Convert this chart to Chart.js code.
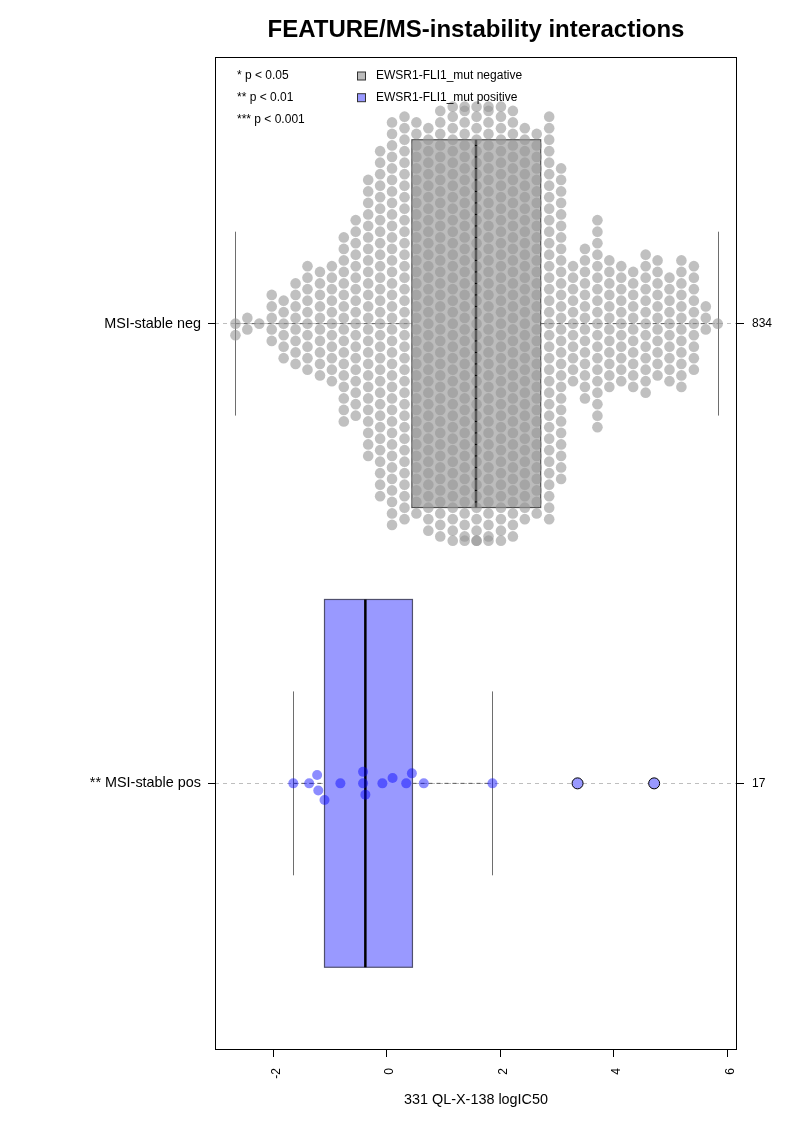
<!DOCTYPE html>
<html><head><meta charset="utf-8">
<script src="https://cdn.jsdelivr.net/npm/chart.js@4.4.0/dist/chart.umd.min.js"></script>
<style>html,body{margin:0;padding:0;background:#fff;} canvas{display:block;}</style>
</head><body>
<canvas id="c" width="793" height="1122" style="width:793px;height:1122px"></canvas>
<script>
// ---------- data ----------
const titleText = 'FEATURE/MS-instability interactions';
const xTitle = '331 QL-X-138 logIC50';
const groupLabels = ['MSI-stable neg', '** MSI-stable pos'];
const groupCounts = ['834', '17'];
const groupPositions = [2, 1];
const xTickValues = [-2, 0, 2, 4, 6];
const sigLegend = ['* p < 0.05', '** p < 0.01', '*** p < 0.001'];
const seriesLegend = ['EWSR1-FLI1_mut negative', 'EWSR1-FLI1_mut positive'];
// box stats: [lower whisker, Q1, median, Q3, upper whisker]
const negBox = [-2.67, 0.44, 1.57, 2.71, 5.83];
const posBox = [-1.65, -1.10, -0.38, 0.45, 1.86];
const posOutliers = [3.36, 4.71];
// negative group: values (binned) and number of points per bin
const negBinValues = [-2.67, -2.46, -2.25, -2.03, -1.82, -1.61, -1.40, -1.18, -0.97, -0.76, -0.55, -0.33, -0.12, 0.09, 0.31,
  0.52, 0.73, 0.94, 1.16, 1.37, 1.58, 1.79, 2.01, 2.22, 2.43, 2.64,
  2.86, 3.07, 3.28, 3.49, 3.71, 3.92, 4.13, 4.34, 4.56, 4.77, 4.98, 5.19, 5.41, 5.62, 5.83];
const negBinCounts = [2, 2, 1, 5, 6, 8, 10, 10, 11, 17, 18, 25, 31, 36, 36,
  35, 36, 38, 39, 40, 40, 40, 39, 38, 35, 34,
  36, 28, 11, 14, 19, 12, 11, 11, 13, 11, 10, 12, 10, 3, 1];
// positive group: individual values (non-outliers)
const posValues = [-1.65, -1.37, -1.23, -1.21, -1.10, -0.82, -0.42, -0.42, -0.38, -0.08, 0.10, 0.34, 0.44, 0.65, 1.86];

// ---------- styling ----------
const FONT = '"Liberation Sans", Arial, Helvetica, sans-serif';
const negPointColor = 'rgba(150,150,150,0.6)';
const negBoxFill = 'rgb(188,188,188)';
const posPointColor = 'rgba(0,0,255,0.45)';
const posBoxFill = 'rgb(153,153,255)';
const SPACING = 11.5;   // px between point centres
const GUTTER = 217;     // px max offset from group line
const BOX_HALF = 0.4, STAPLE_HALF = 0.2;

const boxPlugin = {
  id: 'boxes',
  beforeDatasetsDraw(chart) {
    const ctx = chart.ctx, xs = chart.scales.x, ys = chart.scales.y;
    const drawBox = (st, pos, fill, border) => {
      const yc = ys.getPixelForValue(pos);
      const yt = ys.getPixelForValue(pos + BOX_HALF), yb = ys.getPixelForValue(pos - BOX_HALF);
      const st1 = ys.getPixelForValue(pos + STAPLE_HALF), st2 = ys.getPixelForValue(pos - STAPLE_HALF);
      const p = st.map(v => xs.getPixelForValue(v));
      ctx.save();
      ctx.strokeStyle = 'rgb(90,90,90)'; ctx.lineWidth = 1; ctx.setLineDash([4, 4]);
      ctx.beginPath(); ctx.moveTo(p[0], yc); ctx.lineTo(p[1], yc); ctx.moveTo(p[3], yc); ctx.lineTo(p[4], yc); ctx.stroke();
      ctx.setLineDash([]);
      ctx.strokeStyle = 'rgb(110,110,110)';
      ctx.beginPath(); ctx.moveTo(Math.round(p[0]) + 0.5, st1); ctx.lineTo(Math.round(p[0]) + 0.5, st2);
      ctx.moveTo(Math.round(p[4]) + 0.5, st1); ctx.lineTo(Math.round(p[4]) + 0.5, st2); ctx.stroke();
      ctx.fillStyle = fill; ctx.fillRect(p[1], yt, p[3] - p[1], yb - yt);
      ctx.strokeStyle = border; ctx.lineWidth = 1.2; ctx.strokeRect(p[1], yt, p[3] - p[1], yb - yt);
      ctx.strokeStyle = '#000'; ctx.lineWidth = 2.5;
      ctx.beginPath(); ctx.moveTo(p[2], yt); ctx.lineTo(p[2], yb); ctx.stroke();
      ctx.restore();
    };
    drawBox(negBox, groupPositions[0], negBoxFill, 'rgb(80,80,80)');
    drawBox(posBox, groupPositions[1], posBoxFill, 'rgb(80,80,110)');
  }
};

const framePlugin = {
  id: 'frame',
  afterDraw(chart) {
    const ctx = chart.ctx, a = chart.chartArea;
    ctx.save();
    ctx.strokeStyle = '#000'; ctx.lineWidth = 1;
    ctx.strokeRect(Math.round(a.left) + 0.5, Math.round(a.top) + 0.5, Math.round(a.right - a.left) - 1, Math.round(a.bottom - a.top) - 1);
    ctx.font = '12px ' + FONT; ctx.fillStyle = '#000'; ctx.textBaseline = 'middle'; ctx.textAlign = 'left';
    sigLegend.forEach((t, i) => ctx.fillText(t, a.left + 22, a.top + 19 + i * 21.7));
    const sw = [negBoxFill, posBoxFill];
    seriesLegend.forEach((t, i) => {
      const yy = a.top + 19 + i * 21.7;
      ctx.fillStyle = sw[i]; ctx.fillRect(a.left + 142.5, yy - 4, 8, 8);
      ctx.strokeStyle = 'rgb(50,50,50)'; ctx.lineWidth = 1; ctx.strokeRect(a.left + 142.5, yy - 4, 8, 8);
      ctx.fillStyle = '#000'; ctx.fillText(t, a.left + 161, yy);
    });
    ctx.restore();
  }
};

const chart = new Chart(document.getElementById('c'), {
  type: 'scatter',
  data: { datasets: [
    { label: 'pos', data: [], backgroundColor: posPointColor, borderWidth: 0, pointRadius: 5 },
    { label: 'posOut', data: [], backgroundColor: 'rgb(153,153,255)', borderColor: '#000', borderWidth: 1, pointRadius: 5.5 },
    { label: 'neg', data: [], backgroundColor: negPointColor, borderWidth: 0, pointRadius: 5.3 }
  ]},
  options: {
    responsive: false, animation: false, devicePixelRatio: 1, events: [],
    layout: { padding: 0 },
    plugins: {
      legend: { display: false }, tooltip: { enabled: false },
      title: { display: true, text: titleText, color: '#000', fullSize: false,
        font: { family: FONT, size: 24, weight: 'bold', lineHeight: 1.2 }, padding: { top: 16, bottom: 12.2 } }
    },
    scales: {
      x: { type: 'linear', position: 'bottom', min: -3.03, max: 6.17,
        afterBuildTicks: s => { s.ticks = xTickValues.map(v => ({ value: v })); },
        afterFit: s => { s.height = 72; },
        grid: { drawOnChartArea: false, drawTicks: true, tickLength: 7, tickColor: '#000', tickWidth: 1, color: '#000' },
        border: { display: false },
        ticks: { minRotation: 90, maxRotation: 90, padding: 11, labelOffset: 3, autoSkip: false, color: '#000', font: { family: FONT, size: 12 } },
        title: { display: true, text: xTitle, color: '#000', font: { family: FONT, size: 14.4, lineHeight: 1.2 }, padding: { top: 0, bottom: 13 } }
      },
      y: { type: 'linear', position: 'left', min: 0.42, max: 2.58,
        afterBuildTicks: s => { s.ticks = groupPositions.map(v => ({ value: v })); },
        afterFit: s => { s.width = 215; },
        grid: { drawOnChartArea: true, color: 'rgb(190,190,190)', lineWidth: 1, tickLength: 7, tickColor: '#000', tickBorderDash: [] },
        border: { display: false, dash: [4, 4] },
        ticks: { padding: 7, color: '#000', font: { family: FONT, size: 14.4 },
          callback: v => groupLabels[groupPositions.indexOf(v)] }
      },
      y2: { type: 'linear', position: 'right', min: 0.42, max: 2.58,
        afterBuildTicks: s => { s.ticks = groupPositions.map(v => ({ value: v })); },
        afterFit: s => { s.width = 56; },
        grid: { drawOnChartArea: false, tickLength: 7, tickColor: '#000', color: '#000' },
        border: { display: false },
        ticks: { padding: 8, color: '#000', font: { family: FONT, size: 12 },
          callback: v => groupCounts[groupPositions.indexOf(v)] }
      }
    }
  },
  plugins: [boxPlugin, framePlugin]
});

// ---------- beeswarm layout through the chart's own scales ----------
const xs = chart.scales.x, ys = chart.scales.y;
const ppuY = ys.getPixelForValue(1) - ys.getPixelForValue(2);
const clampOff = o => Math.max(-GUTTER, Math.min(GUTTER, o));

// columns: alternate columns sit on a grid shifted by half a spacing (hex-like packing)
const negPts = [];
negBinValues.forEach((v, k) => {
  const n = negBinCounts[k];
  const wantHalf = k % 2 === 1;            // odd columns: rows at (m+0.5)*s
  const symHalf = n % 2 === 0;             // symmetric layout of n points gives half rows if n even
  const shift = wantHalf === symHalf ? 0 : ((k % 4 < 2) ? 0.5 : -0.5);
  for (let j = 0; j < n; j++) {
    const off = clampOff((j - (n - 1) / 2 + shift) * SPACING);
    negPts.push({ x: v, y: groupPositions[0] - off / ppuY });
  }
});

function swarm(values, pos) {
  const placed = [];
  values.slice().sort((a, b) => a - b).forEach(v => {
    const px = xs.getPixelForValue(v);
    const near = placed.filter(p => Math.abs(p.px - px) < SPACING);
    const cands = [0];
    near.forEach(p => { const dy = Math.sqrt(SPACING * SPACING - (p.px - px) ** 2); cands.push(p.off + dy, p.off - dy); });
    cands.sort((a, b) => Math.abs(a) - Math.abs(b) || a - b);
    let chosen = 0;
    for (const c of cands) {
      if (near.every(p => (p.px - px) ** 2 + (p.off - c) ** 2 >= SPACING * SPACING - 1e-6)) { chosen = c; break; }
    }
    placed.push({ v, px, off: chosen });
  });
  return placed.map(p => ({ x: p.v, y: pos - clampOff(p.off) / ppuY }));
}

chart.data.datasets[0].data = swarm(posValues, groupPositions[1]);
chart.data.datasets[1].data = posOutliers.map(v => ({ x: v, y: groupPositions[1] }));
chart.data.datasets[2].data = negPts;
chart.update('none');
</script>
</body></html>
